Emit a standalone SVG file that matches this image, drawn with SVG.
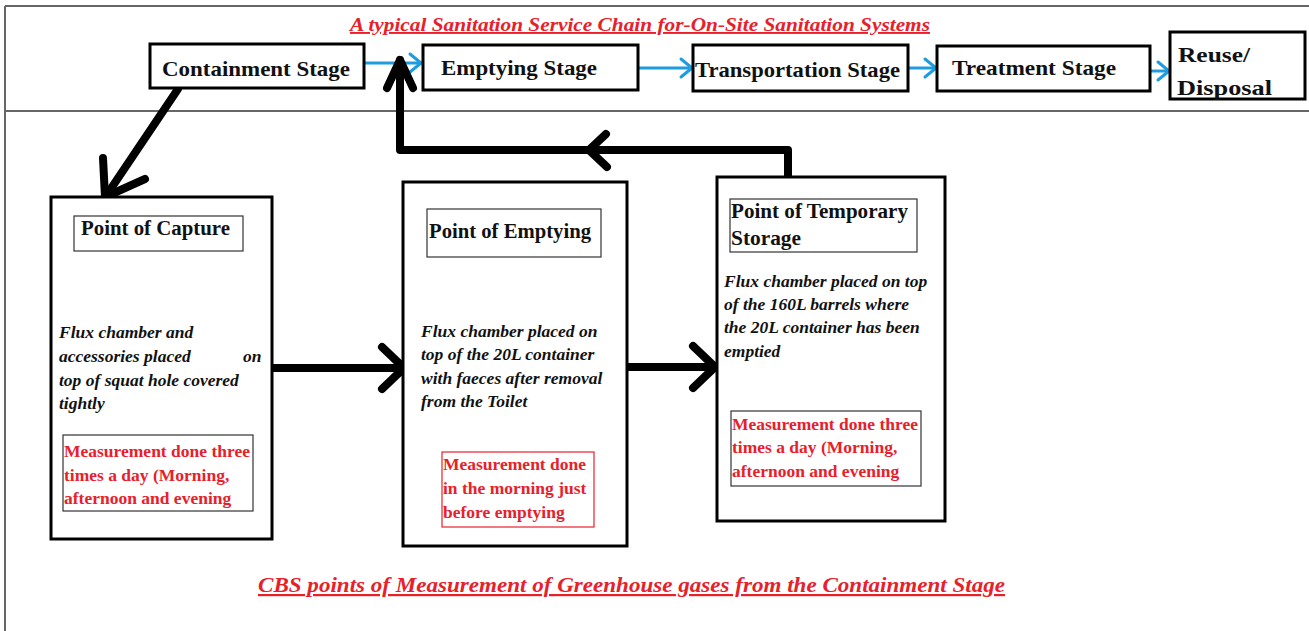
<svg xmlns="http://www.w3.org/2000/svg" width="1309" height="631" viewBox="0 0 1309 631">
<style>
text{font-family:"Liberation Serif","Times New Roman",serif;}
.frame{stroke:#666;stroke-width:2;fill:none;}
.stage{fill:#fff;stroke:#000;stroke-width:3;}
.st{font-weight:bold;font-size:22px;fill:#111;}
.outer{fill:#fff;stroke:#000;stroke-width:3;}
.tbox{fill:#fff;stroke:#333;stroke-width:1.2;}
.tt{font-weight:bold;font-size:20px;fill:#111;}
.it{font-weight:bold;font-style:italic;font-size:17.5px;fill:#111;}
.rbox{fill:#fff;stroke:#333;stroke-width:1.2;}
.rboxr{fill:#fff;stroke:#e8202a;stroke-width:1.2;}
.rt{font-weight:bold;font-size:17.5px;fill:#e8202a;}
.ttl{font-weight:bold;font-style:italic;fill:#e8202a;text-decoration:underline;}
.blue{stroke:#1f9ce0;stroke-width:3;fill:none;}
.blk{stroke:#000;stroke-width:8;fill:none;stroke-linecap:round;stroke-linejoin:round;}
</style>
<defs>
<marker id="ab" markerUnits="userSpaceOnUse" viewBox="-20 -20 40 40" markerWidth="40" markerHeight="40" refX="0" refY="0" orient="auto">
<path d="M-11,-9 L0,0 L-11,9" fill="none" stroke="#1f9ce0" stroke-width="3" stroke-linecap="round" stroke-linejoin="round"/>
</marker>
<marker id="ak" markerUnits="userSpaceOnUse" viewBox="-40 -40 80 80" markerWidth="80" markerHeight="80" refX="0" refY="0" orient="auto">
<path d="M-22,-21 L0,0 L-22,21" fill="none" stroke="#000" stroke-width="8" stroke-linecap="round" stroke-linejoin="round"/>
</marker>
<marker id="akU" markerUnits="userSpaceOnUse" viewBox="-40 -40 80 80" markerWidth="80" markerHeight="80" refX="0" refY="0" orient="auto">
<path d="M-28,-13 L0,0 L-28,13" fill="none" stroke="#000" stroke-width="8" stroke-linecap="round" stroke-linejoin="round"/>
</marker>
</defs>
<rect width="1309" height="631" fill="#fff"/>
<g id="frame">
<path class="frame" d="M5,6 H1309 M5,111 H1309 M5,6 V631"/>
</g>
<text class="ttl" x="350" y="31" font-size="19" textLength="580" lengthAdjust="spacingAndGlyphs">A typical Sanitation Service Chain for-On-Site Sanitation Systems</text>

<g id="connectors">
<line class="blue" x1="365" y1="63" x2="421" y2="63" marker-end="url(#ab)"/>
<line class="blue" x1="639" y1="68" x2="692" y2="68" marker-end="url(#ab)"/>
<line class="blue" x1="909" y1="68" x2="936" y2="68" marker-end="url(#ab)"/>
<line class="blue" x1="1151" y1="71" x2="1169" y2="71" marker-end="url(#ab)"/>
<line class="blk" x1="178" y1="89" x2="106" y2="196"/>
<path class="blk" d="M103,158 L105,197 L145,179"/>
<line class="blk" x1="273" y1="368" x2="404" y2="368" marker-end="url(#ak)"/>
<line class="blk" x1="628" y1="367" x2="715" y2="367" marker-end="url(#ak)"/>
<path class="blk" d="M788,176 V150 H400 V60" marker-end="url(#akU)"/>
<path class="blk" d="M606,134 L589,150 L607,167"/>
</g>

<g id="containment-stage">
<rect class="stage" x="150" y="44" width="214" height="44"/>
<text class="st" x="162" y="76" textLength="188" lengthAdjust="spacingAndGlyphs">Containment Stage</text>
</g>
<g id="emptying-stage">
<rect class="stage" x="423" y="45" width="215" height="45"/>
<text class="st" x="441" y="75" textLength="156" lengthAdjust="spacingAndGlyphs">Emptying Stage</text>
</g>
<g id="transportation-stage">
<rect class="stage" x="693" y="45" width="215" height="46"/>
<text class="st" x="695" y="77" textLength="205" lengthAdjust="spacingAndGlyphs">Transportation Stage</text>
</g>
<g id="treatment-stage">
<rect class="stage" x="937" y="46" width="213" height="45"/>
<text class="st" x="952" y="75" textLength="164" lengthAdjust="spacingAndGlyphs">Treatment Stage</text>
</g>
<g id="reuse-disposal">
<rect class="stage" x="1170" y="32" width="135" height="67"/>
<text class="st" x="1178" y="62" font-size="25" textLength="72" lengthAdjust="spacingAndGlyphs">Reuse/</text>
<text class="st" x="1177" y="95" font-size="25" textLength="95" lengthAdjust="spacingAndGlyphs">Disposal</text>
</g>

<g id="point-of-capture">
<rect class="outer" x="51" y="197" width="221" height="342"/>
<rect class="tbox" x="74" y="216" width="169" height="35"/>
<text class="tt" x="81" y="235" textLength="149" lengthAdjust="spacingAndGlyphs">Point of Capture</text>
<text class="it" x="59" y="338">Flux chamber and</text>
<text class="it" x="59" y="362">accessories placed</text>
<text class="it" x="243" y="362">on</text>
<text class="it" x="59" y="386">top of squat hole covered</text>
<text class="it" x="59" y="409">tightly</text>
<rect class="rbox" x="63" y="435" width="190" height="76"/>
<text class="rt" x="64" y="457">Measurement done three</text>
<text class="rt" x="64" y="481">times a day (Morning,</text>
<text class="rt" x="64" y="504">afternoon and evening</text>
</g>

<g id="point-of-emptying">
<rect class="outer" x="403" y="182" width="224" height="364"/>
<rect class="tbox" x="427" y="209" width="174" height="48"/>
<text class="tt" x="429" y="238" textLength="162" lengthAdjust="spacingAndGlyphs">Point of Emptying</text>
<text class="it" x="421" y="337">Flux chamber placed on</text>
<text class="it" x="421" y="360">top of the 20L container</text>
<text class="it" x="421" y="384">with faeces after removal</text>
<text class="it" x="421" y="407">from the Toilet</text>
<rect class="rboxr" x="442" y="452" width="152" height="75"/>
<text class="rt" x="443" y="470">Measurement done</text>
<text class="rt" x="443" y="494">in the morning just</text>
<text class="rt" x="443" y="518">before emptying</text>
</g>

<g id="point-of-temporary-storage">
<rect class="outer" x="717" y="177" width="228" height="344"/>
<rect class="tbox" x="730" y="199" width="187" height="53"/>
<text class="tt" x="731" y="218" textLength="177" lengthAdjust="spacingAndGlyphs">Point of Temporary</text>
<text class="tt" x="731" y="245" textLength="70" lengthAdjust="spacingAndGlyphs">Storage</text>
<text class="it" x="724" y="287">Flux chamber placed on top</text>
<text class="it" x="724" y="310">of the 160L barrels where</text>
<text class="it" x="724" y="333">the 20L container has been</text>
<text class="it" x="724" y="357">emptied</text>
<rect class="rbox" x="731" y="411" width="190" height="75"/>
<text class="rt" x="732" y="430">Measurement done three</text>
<text class="rt" x="732" y="453">times a day (Morning,</text>
<text class="rt" x="732" y="477">afternoon and evening</text>
</g>

<text class="ttl" x="258" y="592" font-size="22" textLength="747" lengthAdjust="spacingAndGlyphs">CBS points of Measurement of Greenhouse gases from the Containment Stage</text>
</svg>
